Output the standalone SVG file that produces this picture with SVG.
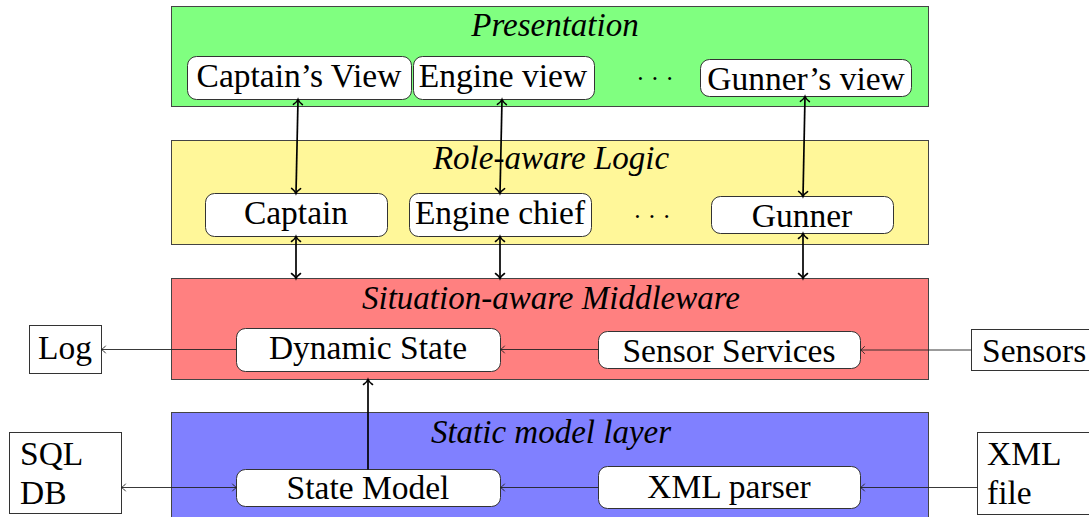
<svg xmlns="http://www.w3.org/2000/svg" width="1089" height="517" viewBox="0 0 1089 517">
<style>
.layer{stroke:#444;stroke-width:1}
.node{fill:#fff;stroke:#333;stroke-width:1}
.box{fill:#fff;stroke:#333;stroke-width:1}
.title{font-family:'Liberation Serif','DejaVu Serif','Times New Roman',serif;font-style:italic;font-size:33px;fill:#000;text-anchor:middle}
.lbl{font-family:'Liberation Serif','DejaVu Serif','Times New Roman',serif;font-size:33.5px;fill:#000;text-anchor:middle}
.lbls{font-family:'Liberation Serif','DejaVu Serif','Times New Roman',serif;font-size:33.5px;fill:#000}
.dots{font-family:'Liberation Serif','DejaVu Serif','Times New Roman',serif;font-size:25px;fill:#000;text-anchor:middle}
.thick{stroke:#000;stroke-width:1.7;fill:none}
.thin{stroke:#222;stroke-width:0.9;fill:none}
</style>
<defs>
<marker id="hT" markerUnits="userSpaceOnUse" markerWidth="14" markerHeight="14" refX="10" refY="7" orient="auto-start-reverse" viewBox="0 0 14 14">
<path d="M5 2.5 Q7.5 6 10 7 Q7.5 8 5 11.5" fill="none" stroke="#000" stroke-width="1.6" stroke-linecap="round"/>
</marker>
<marker id="hS" markerUnits="userSpaceOnUse" markerWidth="12" markerHeight="12" refX="9" refY="6" orient="auto-start-reverse" viewBox="0 0 12 12">
<path d="M5 2.5 Q7 5 9 6 Q7 7 5 9.5" fill="none" stroke="#222" stroke-width="0.9" stroke-linecap="round"/>
</marker>
</defs>

<g id="layer-presentation">
<rect class="layer" x="171.5" y="6.5" width="757" height="100" fill="#80ff80"/>
<text class="title" x="555" y="36">Presentation</text>
</g>
<g id="layer-role">
<rect class="layer" x="171.5" y="140.5" width="757" height="104" fill="#fff799"/>
<text class="title" x="551" y="169">Role-aware Logic</text>
</g>
<g id="layer-middleware">
<rect class="layer" x="171.5" y="278.5" width="757" height="101" fill="#ff8080"/>
<text class="title" x="551" y="309">Situation-aware Middleware</text>
</g>
<g id="layer-static">
<rect class="layer" x="171.5" y="412.5" width="757" height="106" fill="#8080ff"/>
<text class="title" x="551" y="443">Static model layer</text>
</g>

<g id="captains-view"><rect class="node" x="187.5" y="56.5" width="224" height="43" rx="9"/><text class="lbl" x="299" y="87">Captain’s View</text></g>
<g id="engine-view"><rect class="node" x="413.5" y="56.5" width="181" height="43" rx="9"/><text class="lbl" x="503" y="87">Engine view</text></g>
<g id="pres-dots"><text class="dots" x="655" y="87">· · ·</text></g>
<g id="gunners-view"><rect class="node" x="700.5" y="59.5" width="211" height="37" rx="9"/><text class="lbl" x="806" y="90">Gunner’s view</text></g>

<g id="captain"><rect class="node" x="205.5" y="193.5" width="182" height="43" rx="9"/><text class="lbl" x="296" y="224">Captain</text></g>
<g id="engine-chief"><rect class="node" x="409.5" y="193.5" width="182" height="43" rx="9"/><text class="lbl" x="500" y="224">Engine chief</text></g>
<g id="role-dots"><text class="dots" x="652" y="225">· · ·</text></g>
<g id="gunner"><rect class="node" x="711.5" y="196.5" width="182" height="37" rx="9"/><text class="lbl" x="802" y="227">Gunner</text></g>

<g id="dynamic-state"><rect class="node" x="236.5" y="328.5" width="264" height="43" rx="9"/><text class="lbl" x="368" y="359">Dynamic State</text></g>
<g id="sensor-services"><rect class="node" x="598.5" y="331.5" width="262" height="37" rx="9"/><text class="lbl" x="729" y="362">Sensor Services</text></g>
<g id="log"><rect class="box" x="29.5" y="325.5" width="72" height="48"/><text class="lbl" x="65" y="359">Log</text></g>
<g id="sensors"><rect class="box" x="971.5" y="329.5" width="120" height="41"/><text class="lbls" x="982" y="362">Sensors</text></g>

<g id="state-model"><rect class="node" x="236.5" y="469.5" width="264" height="37" rx="9"/><text class="lbl" x="368" y="499">State Model</text></g>
<g id="xml-parser"><rect class="node" x="598.5" y="466.5" width="262" height="42" rx="9"/><text class="lbl" x="729" y="498">XML parser</text></g>
<g id="sql-db"><rect class="box" x="9.5" y="432.5" width="112" height="81"/><text class="lbls" x="20" y="465">SQL</text><text class="lbls" x="20" y="504">DB</text></g>
<g id="xml-file"><rect class="box" x="977.5" y="432.5" width="115" height="82"/><text class="lbls" x="987" y="465">XML</text><text class="lbls" x="987" y="504">file</text></g>

<g id="connectors">
<line class="thick" x1="298" y1="99.5" x2="296" y2="193.5" marker-start="url(#hT)" marker-end="url(#hT)"/>
<line class="thick" x1="502" y1="99.5" x2="500" y2="193.5" marker-start="url(#hT)" marker-end="url(#hT)"/>
<line class="thick" x1="805" y1="96.5" x2="803" y2="196.5" marker-start="url(#hT)" marker-end="url(#hT)"/>
<line class="thick" x1="296" y1="236.5" x2="296" y2="278.5" marker-start="url(#hT)" marker-end="url(#hT)"/>
<line class="thick" x1="500" y1="236.5" x2="500" y2="278.5" marker-start="url(#hT)" marker-end="url(#hT)"/>
<line class="thick" x1="803" y1="233.5" x2="803" y2="278.5" marker-start="url(#hT)" marker-end="url(#hT)"/>
<line class="thick" x1="368" y1="469.5" x2="368" y2="379.5" marker-end="url(#hT)"/>
<line class="thin" x1="236.5" y1="349.5" x2="101.5" y2="349.5" marker-end="url(#hS)"/>
<line class="thin" x1="598.5" y1="349.5" x2="500.5" y2="349.5" marker-end="url(#hS)"/>
<line class="thin" x1="971.5" y1="350" x2="860.5" y2="350" marker-end="url(#hS)"/>
<line class="thin" x1="121.5" y1="487.5" x2="236.5" y2="487.5" marker-start="url(#hS)" marker-end="url(#hS)"/>
<line class="thin" x1="598.5" y1="487.5" x2="500.5" y2="487.5" marker-end="url(#hS)"/>
<line class="thin" x1="977.5" y1="487.5" x2="860.5" y2="487.5" marker-end="url(#hS)"/>
</g>
</svg>
